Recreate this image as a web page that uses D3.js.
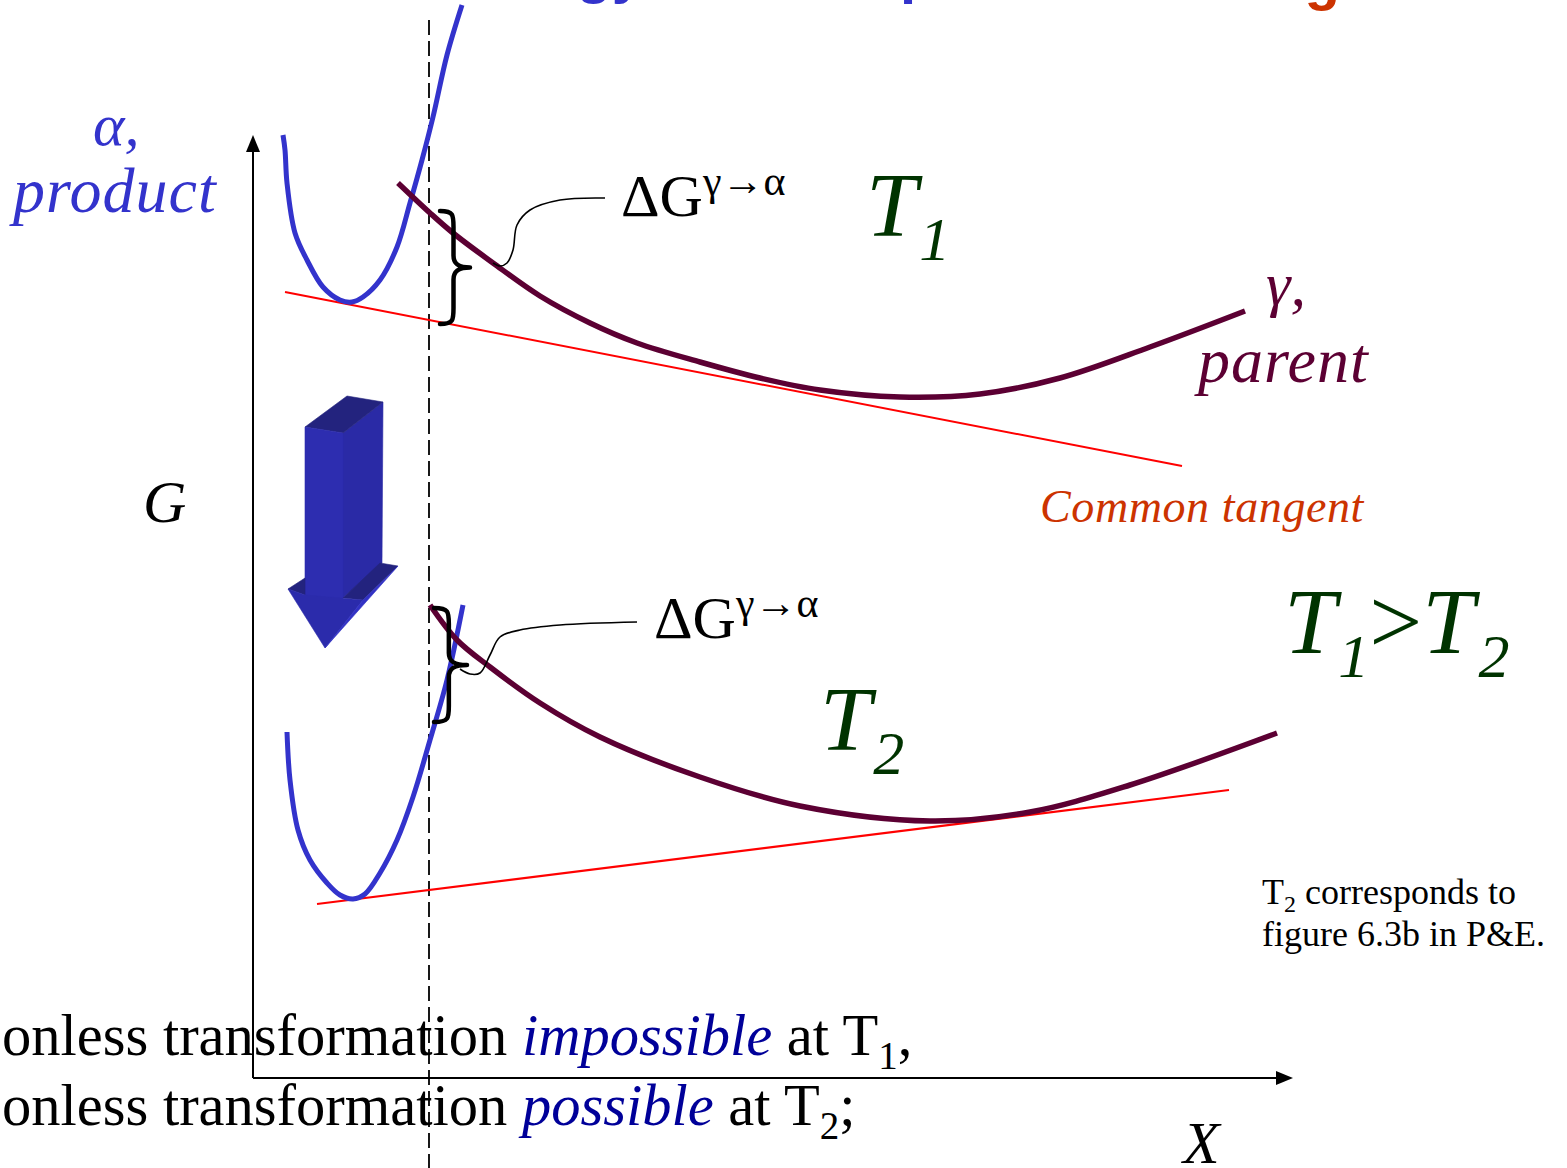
<!DOCTYPE html>
<html>
<head>
<meta charset="utf-8">
<script src="https://cdn.jsdelivr.net/npm/d3@7"></script>
<style>
  html, body { margin: 0; padding: 0; background: #fff; }
  svg { display: block; }
  .serif { font-family: "Liberation Serif", "Times New Roman", serif; }
</style>
</head>
<body>
<svg id="chart" width="1567" height="1168"></svg>
<script>
// Free energy vs. composition, schematic units (X along the bottom, G upward)

// alpha (product) free-energy curve at T1
const alphaT1 = [
  [3.0, 94.3], [3.2, 92.8], [3.4, 89.5], [4.2, 84.5], [5.4, 81.8], [7.0, 79.1],
  [8.7, 77.8], [9.9, 77.6], [11.0, 78.1], [12.7, 79.8], [14.4, 83.1], [15.7, 87.5],
  [16.9, 91.8], [18.0, 96.1], [19.4, 102.3], [20.9, 107.3]
];
// gamma (parent) free-energy curve at T1
const gammaT1 = [
  [14.5, 89.5], [17.7, 86.5], [20.0, 84.5], [24.0, 81.5], [28.7, 78.2], [33.7, 75.5],
  [38.4, 73.5], [44.7, 71.6], [50.7, 70.0], [56.7, 68.8], [64.7, 68.1], [72.7, 68.4],
  [80.7, 70.0], [89.7, 73.1], [99.2, 76.7]
];
// alpha curve at T2
const alphaT2 = [
  [3.4, 34.6], [3.7, 29.8], [4.5, 24.8], [5.7, 21.8], [7.4, 19.5], [8.7, 18.3],
  [10.0, 17.9], [11.2, 18.4], [12.7, 20.5], [14.4, 23.8], [16.0, 28.1], [17.7, 33.8],
  [19.4, 39.8], [21.0, 47.3]
];
// gamma curve at T2
const gammaT2 = [
  [17.7, 47.3], [20.4, 43.8], [23.7, 41.1], [28.7, 37.5], [34.7, 34.1], [44.7, 30.1],
  [54.7, 27.2], [67.7, 25.7], [77.7, 26.6], [87.7, 29.3], [102.4, 34.5]
];
// common tangents
const tangentT1 = [[3.2, 78.6], [92.9, 61.2]];
const tangentT2 = [[6.4, 17.4], [97.6, 28.8]];
// composition of the alloy (dashed line)
const alloyX = 17.6;
const alloyRange = [-9.0, 105.8];
// driving-force braces {x, top, bottom, width}
const braces = [
  { x: 18.7, top: 86.7, bottom: 75.4, width: 3.0 },
  { x: 18.1, top: 47.0, bottom: 35.6, width: 3.3 }
];
// leader lines from the ΔG labels to the braces
const leaderT1 = [[35.2, 88.0], [30.7, 87.8], [27.7, 86.8], [26.4, 85.3], [26.0, 82.8], [25.4, 81.5], [24.7, 81.2], [24.0, 81.5]];
const leaderT2 = [[38.4, 45.6], [30.7, 45.3], [26.7, 44.8], [24.7, 44.1], [23.7, 42.3], [22.7, 40.5], [21.7, 40.4], [20.7, 40.9]];
// axis extents
const xMax = 104, yMax = 94.3;

const svg = d3.select("#chart");
const x = d3.scaleLinear().domain([0, xMax]).range([253, 1293]);
const y = d3.scaleLinear().domain([0, yMax]).range([1078, 135]);

const smooth = d3.line().x(d => x(d[0])).y(d => y(d[1])).curve(d3.curveCatmullRom.alpha(0.5));
const straight = d3.line().x(d => x(d[0])).y(d => y(d[1]));

// title (mostly above the visible area)
const title = svg.append("g").attr("font-family", "Liberation Sans, Arial, sans-serif")
  .attr("font-weight", "bold").attr("font-size", 58);
title.append("text").attr("x", 644).attr("y", -8).attr("text-anchor", "end")
  .attr("fill", "#3333cc").text("Free Energy");
title.append("text").attr("x", 771).attr("y", -8)
  .attr("fill", "#3333cc").text("Composition");
title.append("text").attr("x", 1340).attr("y", -1).attr("text-anchor", "end")
  .attr("fill", "#cc3300").text("Driving");

// axes
const axes = svg.append("g").attr("stroke", "#000").attr("stroke-width", 2).attr("fill", "none");
axes.append("line").attr("x1", x(0)).attr("y1", y(0)).attr("x2", x(0)).attr("y2", y(yMax) + 14);
axes.append("line").attr("x1", x(0)).attr("y1", y(0)).attr("x2", x(xMax) - 14).attr("y2", y(0));
svg.append("path").attr("fill", "#000")
  .attr("d", `M${x(0)},${y(yMax)} L${x(0) - 7},${y(yMax) + 17} L${x(0) + 7},${y(yMax) + 17} Z`);
svg.append("path").attr("fill", "#000")
  .attr("d", `M${x(xMax)},${y(0)} L${x(xMax) - 17},${y(0) - 7} L${x(xMax) - 17},${y(0) + 7} Z`);

// dashed line at the alloy composition
svg.append("line")
  .attr("x1", x(alloyX)).attr("x2", x(alloyX))
  .attr("y1", y(alloyRange[1])).attr("y2", y(alloyRange[0]))
  .attr("stroke", "#000").attr("stroke-width", 1.8).attr("stroke-dasharray", "15,6");

// common tangents
[tangentT1, tangentT2].forEach(t => {
  svg.append("path").attr("d", straight(t)).attr("fill", "none")
    .attr("stroke", "#ff0000").attr("stroke-width", 2);
});

// free-energy curves
[alphaT1, alphaT2].forEach(c => {
  svg.append("path").attr("d", smooth(c)).attr("fill", "none")
    .attr("stroke", "#3333cc").attr("stroke-width", 5).attr("stroke-linecap", "butt");
});
[gammaT1, gammaT2].forEach(c => {
  svg.append("path").attr("d", smooth(c)).attr("fill", "none")
    .attr("stroke", "#5c0033").attr("stroke-width", 5.5).attr("stroke-linecap", "butt");
});

// braces
braces.forEach(b => {
  const x0 = x(b.x), xv = x(b.x + b.width * 0.45), xt = x(b.x + b.width);
  const y0 = y(b.top), y1 = y(b.bottom), ym = (y0 + y1) / 2;
  const p = d3.path();
  p.moveTo(x0, y0);
  p.bezierCurveTo(xv, y0, xv, y0 + 4, xv, y0 + 16);
  p.lineTo(xv, ym - 12);
  p.bezierCurveTo(xv, ym - 3, xv + 6, ym, xt, ym);
  p.bezierCurveTo(xv + 6, ym, xv, ym + 3, xv, ym + 12);
  p.lineTo(xv, y1 - 16);
  p.bezierCurveTo(xv, y1 - 4, xv, y1, x0, y1);
  svg.append("path").attr("d", p.toString()).attr("fill", "none")
    .attr("stroke", "#000").attr("stroke-width", 4.5).attr("stroke-linecap", "round").attr("stroke-linejoin", "round");
});

// leader lines
[leaderT1, leaderT2].forEach(l => {
  svg.append("path").attr("d", smooth(l)).attr("fill", "none")
    .attr("stroke", "#000").attr("stroke-width", 1.6);
});

// block arrow (cooling from T1 to T2), local shape coordinates
const arrowFaces = [
  { pts: [[55, 37], [95, 6], [94, 167], [55, 202]], fill: "#2a2aa6" },   // shaft side
  { pts: [[17, 31], [59, 0], [95, 6], [55, 37]], fill: "#23237e" },      // shaft top
  { pts: [[17, 31], [55, 37], [55, 204], [17, 200]], fill: "#2d2db0" },  // shaft front
  { pts: [[55, 202], [92, 167], [110, 170], [75, 204]], fill: "#23237e" }, // right ledge
  { pts: [[0, 193], [17, 182], [17, 199]], fill: "#23237e" },           // left ledge
  { pts: [[0, 193], [17, 199], [75, 204], [37, 252]], fill: "#2b2bab" }, // head front
  { pts: [[75, 204], [110, 170], [37, 252]], fill: "#3232c4" }           // head edge
];
const arrow = svg.append("g").attr("transform", "translate(288,396)");
arrowFaces.forEach(f => {
  arrow.append("polygon").attr("points", f.pts.map(p => p.join(",")).join(" "))
    .attr("fill", f.fill).attr("stroke", f.fill).attr("stroke-width", 0.6);
});

// labels
const txt = svg.append("g").attr("class", "serif");

function label(xp, yp, size, color, italic, text) {
  return txt.append("text").attr("x", xp).attr("y", yp).attr("font-size", size)
    .attr("fill", color).attr("font-style", italic ? "italic" : "normal").text(text);
}

label(93, 145, 60, "#3333cc", true, "α,");
label(13, 212, 64, "#3333cc", true, "product").attr("letter-spacing", 1);
label(143, 522, 60, "#000", true, "G");
label(1183, 1163, 60, "#000", true, "X");
label(1266, 305, 62, "#5c0033", true, "γ,");
label(1198, 382, 64, "#5c0033", true, "parent").attr("letter-spacing", 1);
label(1040, 522, 46, "#cc3300", true, "Common tangent").attr("letter-spacing", 0.6);

// ΔG labels
function deltaG(xp, yp) {
  const t = txt.append("text").attr("x", xp).attr("y", yp).attr("font-size", 60).attr("fill", "#000");
  t.append("tspan").text("ΔG");
  t.append("tspan").attr("font-size", 42).attr("dy", -21).text("γ→α");
}
deltaG(621, 216);
deltaG(654, 638);

// temperature labels
const green = "#003300";
function tempLabel(xp, yp, sub) {
  const t = txt.append("text").attr("x", xp).attr("y", yp).attr("font-size", 92)
    .attr("fill", green).attr("font-style", "italic");
  t.append("tspan").text("T");
  t.append("tspan").attr("font-size", 62).attr("dx", 2).attr("dy", 24).text(sub);
  return t;
}
tempLabel(866, 236, "1");
tempLabel(820, 750, "2");

const cmp = txt.append("text").attr("x", 1284).attr("y", 653).attr("font-size", 94)
  .attr("fill", green).attr("font-style", "italic");
cmp.append("tspan").text("T");
cmp.append("tspan").attr("font-size", 62).attr("dx", 2).attr("dy", 24).text("1");
cmp.append("tspan").attr("font-style", "normal").attr("dy", -24).text(">");
cmp.append("tspan").text("T");
cmp.append("tspan").attr("font-size", 62).attr("dx", 4).attr("dy", 24).text("2");

// side note
const note1 = txt.append("text").attr("x", 1262).attr("y", 904).attr("font-size", 36).attr("fill", "#000");
note1.append("tspan").text("T");
note1.append("tspan").attr("font-size", 24).attr("dy", 8).text("2");
note1.append("tspan").attr("dy", -8).text(" corresponds to");
txt.append("text").attr("x", 1262).attr("y", 946).attr("font-size", 36).attr("fill", "#000")
  .text("figure 6.3b in P&E.");

// bottom statements
function statement(yp, word, sub, punct) {
  const t = txt.append("text").attr("x", 2).attr("y", yp).attr("font-size", 58.5).attr("fill", "#000");
  t.append("tspan").text("onless transformation ");
  t.append("tspan").attr("fill", "#000099").attr("font-style", "italic").text(word);
  t.append("tspan").text(" at T");
  t.append("tspan").attr("font-size", 39).attr("dy", 14).text(sub);
  t.append("tspan").attr("dy", -14).text(punct);
}
statement(1055, "impossible", "1", ",");
statement(1125, "possible", "2", ";");
</script>
</body>
</html>
